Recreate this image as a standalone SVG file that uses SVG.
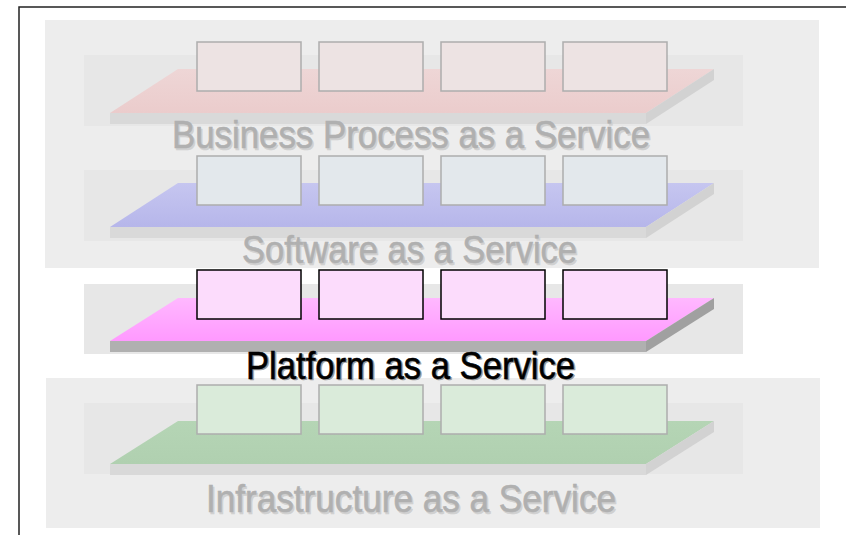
<svg xmlns="http://www.w3.org/2000/svg" width="846" height="535" viewBox="0 0 846 535">
<defs>
<linearGradient id="gRed" x1="0" y1="0" x2="0" y2="1"><stop offset="0" stop-color="#eed6d6"/><stop offset="1" stop-color="#ebcccc"/></linearGradient>
<linearGradient id="gBlue" x1="0" y1="0" x2="0" y2="1"><stop offset="0" stop-color="#c6c6f0"/><stop offset="1" stop-color="#b6b6ea"/></linearGradient>
<linearGradient id="gPink" x1="0" y1="0" x2="0" y2="1"><stop offset="0" stop-color="#ffb8ff"/><stop offset="1" stop-color="#ff99ff"/></linearGradient>
<linearGradient id="gGreen" x1="0" y1="0" x2="0" y2="1"><stop offset="0" stop-color="#b5d5b5"/><stop offset="1" stop-color="#b0d0b0"/></linearGradient>
</defs>
<style>
.panel{fill:#ededed}
.band{fill:#e7e7e7}
.front{fill:#d9d9d9}
.side{fill:#d2d2d2}
.frontP{fill:#b0b0b0}
.sideP{fill:#a0a0a0}
.box{stroke:#adadad;stroke-width:1.5}
.boxP{fill:#fcdcfc;stroke:#000;stroke-width:1.5}
.lbl{font-family:"Liberation Sans",Arial,sans-serif;font-size:38px;text-anchor:middle}
.dim{fill:#b0b0b0;stroke:#b0b0b0;stroke-width:0.6}
.dimS{fill:#d0d0d0;stroke:#d0d0d0;stroke-width:0.6}
.dark{fill:#000;stroke:#000;stroke-width:0.6}
.darkS{fill:#9a9a9a;stroke:#9a9a9a;stroke-width:0.6}
</style>
<rect x="0" y="0" width="846" height="535" fill="#fff"/>
<rect x="19" y="7" width="840" height="540" fill="none" stroke="#222" stroke-width="1.5"/>
<rect class="panel" x="45" y="20" width="774" height="248"/>
<rect class="panel" x="46" y="378" width="774" height="150"/>

<g id="bpaas">
<rect class="band" x="84" y="55" width="659" height="71"/>
<polygon points="178,69 714,69 646,113 110,113" fill="url(#gRed)"/>
<rect class="front" x="110" y="113" width="536" height="11"/>
<polygon class="side" points="646,113 714,69 714,80 646,124"/>
<rect class="box" x="197" y="42" width="104" height="49" fill="#ede3e3"/>
<rect class="box" x="319" y="42" width="104" height="49" fill="#ede3e3"/>
<rect class="box" x="441" y="42" width="104" height="49" fill="#ede3e3"/>
<rect class="box" x="563" y="42" width="104" height="49" fill="#ede3e3"/>
<text class="lbl dimS" x="412.5" y="149.5" textLength="478" lengthAdjust="spacingAndGlyphs">Business Process as a Service</text>
<text class="lbl dim" x="411" y="148" textLength="478" lengthAdjust="spacingAndGlyphs">Business Process as a Service</text>
</g>

<g id="saas">
<rect class="band" x="84" y="170" width="659" height="71"/>
<polygon points="178,183 714,183 646,227 110,227" fill="url(#gBlue)"/>
<rect class="front" x="110" y="227" width="536" height="11"/>
<polygon class="side" points="646,227 714,183 714,194 646,238"/>
<rect class="box" x="197" y="156" width="104" height="49" fill="#e3e8ec"/>
<rect class="box" x="319" y="156" width="104" height="49" fill="#e3e8ec"/>
<rect class="box" x="441" y="156" width="104" height="49" fill="#e3e8ec"/>
<rect class="box" x="563" y="156" width="104" height="49" fill="#e3e8ec"/>
<text class="lbl dimS" x="411" y="264.5" textLength="335" lengthAdjust="spacingAndGlyphs">Software as a Service</text>
<text class="lbl dim" x="409.5" y="263" textLength="335" lengthAdjust="spacingAndGlyphs">Software as a Service</text>
</g>

<g id="paas">
<rect class="band" x="84" y="284" width="659" height="70"/>
<polygon points="178,298 714,298 646,341 110,341" fill="url(#gPink)"/>
<rect class="frontP" x="110" y="341" width="536" height="11"/>
<polygon class="sideP" points="646,341 714,298 714,309 646,352"/>
<rect class="boxP" x="197" y="270" width="104" height="49"/>
<rect class="boxP" x="319" y="270" width="104" height="49"/>
<rect class="boxP" x="441" y="270" width="104" height="49"/>
<rect class="boxP" x="563" y="270" width="104" height="49"/>
<text class="lbl darkS" x="412" y="380" textLength="329" lengthAdjust="spacingAndGlyphs">Platform as a Service</text>
<text class="lbl dark" x="410.5" y="378.5" textLength="329" lengthAdjust="spacingAndGlyphs">Platform as a Service</text>
</g>

<g id="iaas">
<rect class="band" x="84" y="403" width="659" height="71"/>
<polygon points="178,421 714,421 646,464 110,464" fill="url(#gGreen)"/>
<rect class="front" x="110" y="464" width="536" height="11"/>
<polygon class="side" points="646,464 714,421 714,432 646,475"/>
<rect class="box" x="197" y="385" width="104" height="49" fill="#daebda"/>
<rect class="box" x="319" y="385" width="104" height="49" fill="#daebda"/>
<rect class="box" x="441" y="385" width="104" height="49" fill="#daebda"/>
<rect class="box" x="563" y="385" width="104" height="49" fill="#daebda"/>
<text class="lbl dimS" x="412.5" y="513.5" textLength="410" lengthAdjust="spacingAndGlyphs">Infrastructure as a Service</text>
<text class="lbl dim" x="411" y="512" textLength="410" lengthAdjust="spacingAndGlyphs">Infrastructure as a Service</text>
</g>
</svg>
